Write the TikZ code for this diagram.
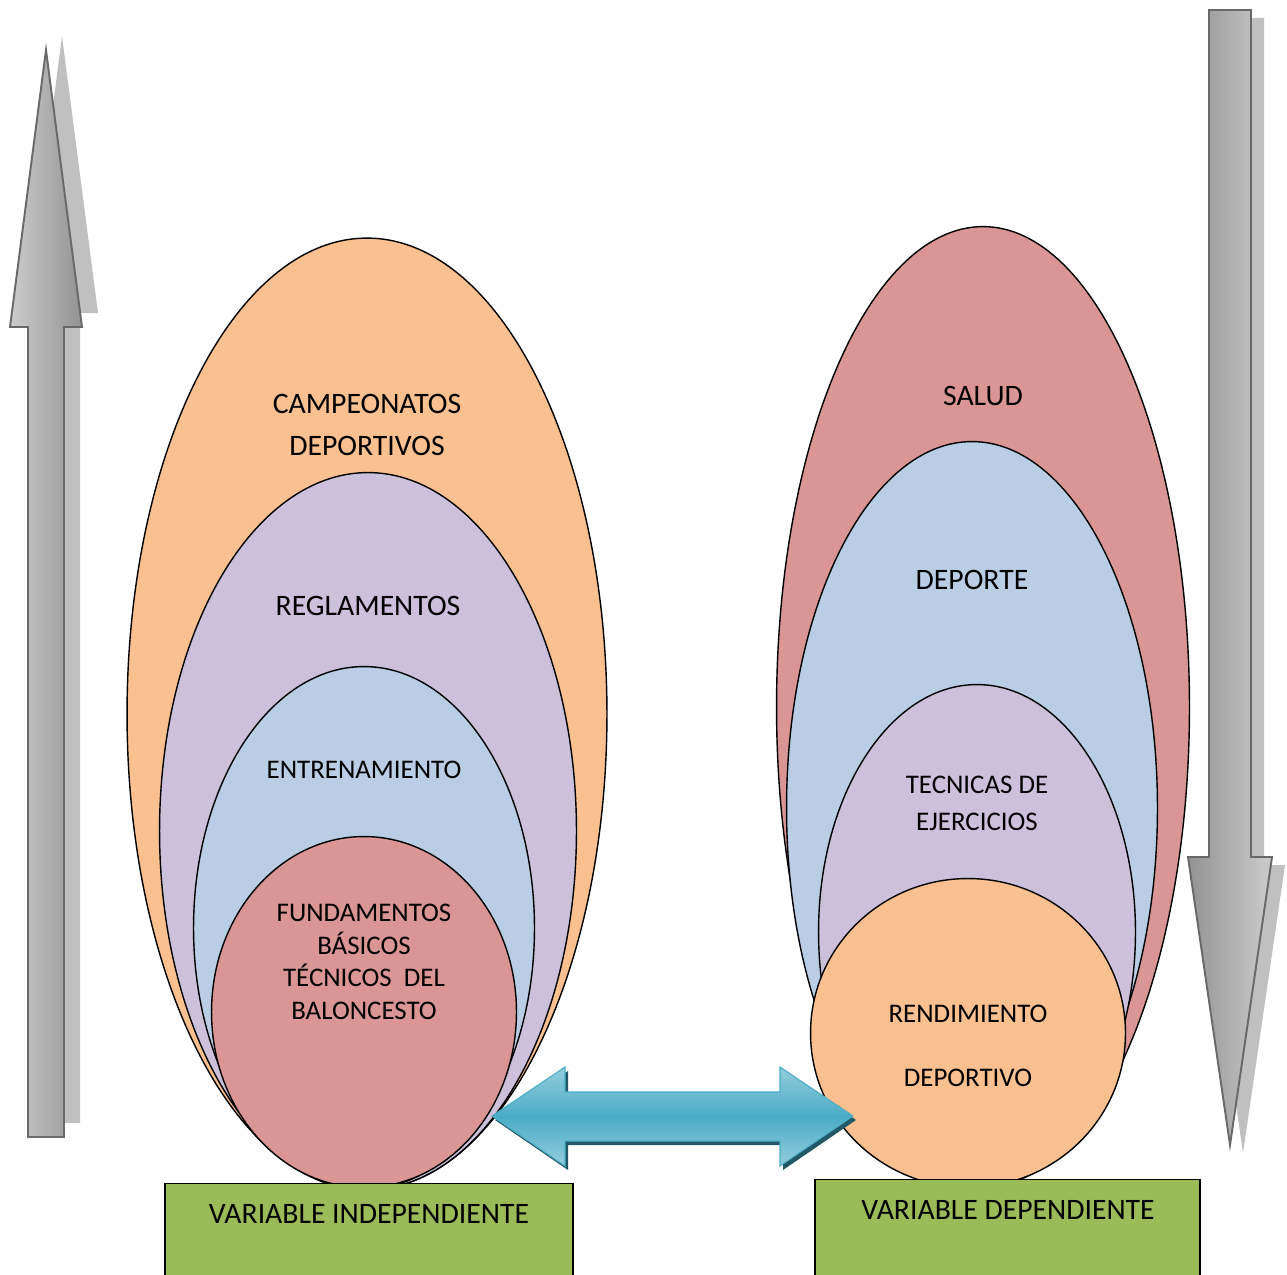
\documentclass[tikz,border=0pt]{standalone}
\usepackage{fontspec}
\setmainfont{Carlito}
\usetikzlibrary{shapes.geometric}
\definecolor{corange}{HTML}{FAC090}
\definecolor{cpurple}{HTML}{CCC0DA}
\definecolor{cblue}{HTML}{B9CDE5}
\definecolor{cred}{HTML}{D99694}
\definecolor{cgreen}{HTML}{9BBB59}
\definecolor{cteal}{HTML}{4BACC6}
\definecolor{cteallight}{HTML}{93CDDD}
\definecolor{ctealdark}{HTML}{215968}
\definecolor{arrline}{RGB}{105,105,105}
\definecolor{arrshadow}{RGB}{192,192,192}
\begin{document}
\begin{tikzpicture}[x=0.02cm,y=-0.02cm,
  oval/.style={ellipse, draw=black, line width=0.8pt, inner sep=0pt, outer sep=0pt},
  lbl/.style={font=\fontsize{16.9}{20}\selectfont, align=center, inner sep=0pt},
  slbl/.style={font=\fontsize{15.3}{18.5}\selectfont, align=center, inner sep=0pt},
  varbox/.style={draw=black, line width=0.8pt, fill=cgreen, inner sep=0pt, outer sep=0pt},
  greyshadow/.style={fill=arrshadow, draw=none},
  upgrey/.style={draw=arrline, line width=1.1pt, left color=gray!40, right color=gray!85},
  downgrey/.style={draw=arrline, line width=1.1pt, left color=gray!85, right color=gray!40},
  tealshadow/.style={fill=ctealdark, draw=none},
  tealarrow/.style={draw=cteal, line width=0.6pt, top color=cteallight, bottom color=cteallight, middle color=cteal}
]
\useasboundingbox (0,0) rectangle (1287,1274);

% ---- grey vertical arrows ----
\coordinate (uptip) at (46,50);
\coordinate (dntip) at (1230,1145);
\fill[greyshadow] ([shift={(16,-14)}]uptip) -- ++(36,277) -- ++(-18,0) -- ++(0,810) -- ++(-36,0) -- ++(0,-810) -- ++(-18,0) -- cycle;
\path[upgrey] (uptip) -- ++(36,277) -- ++(-18,0) -- ++(0,810) -- ++(-36,0) -- ++(0,-810) -- ++(-18,0) -- cycle;
\fill[greyshadow] ([shift={(13,8)}]dntip) -- ++(42,-288) -- ++(-21,0) -- ++(0,-847) -- ++(-42,0) -- ++(0,847) -- ++(-21,0) -- cycle;
\path[downgrey] (dntip) -- ++(42,-288) -- ++(-21,0) -- ++(0,-847) -- ++(-42,0) -- ++(0,847) -- ++(-21,0) -- cycle;

% ---- left ellipses ----
\node[oval, fill=corange, minimum width=9.6cm, minimum height=19.04cm] (lcamp) at (367,714) {};
\node[oval, fill=cpurple, minimum width=8.34cm, minimum height=14.34cm] (lregl) at (368,831) {};
\node[oval, fill=cblue, minimum width=6.82cm, minimum height=10.46cm] (lentr) at (364,928) {};
\node[oval, fill=cred, minimum width=6.1cm, minimum height=7.02cm] (lfund) at (364,1012) {};

% ---- right ellipses ----
\node[oval, fill=cred, minimum width=8.26cm, minimum height=19.22cm] (rsalud) at (983,707) {};
\node[oval, fill=cblue, minimum width=7.42cm, minimum height=14.66cm] (rdep) at (972,808) {};
\node[oval, fill=cpurple, minimum width=6.34cm, minimum height=9.9cm] (rtec) at (977,932) {};
\node[oval, fill=corange, minimum width=6.3cm, minimum height=6.18cm] (rrend) at (968,1033) {};

% ---- labels ----
\node[lbl, font=\fontsize{16.9}{23.8}\selectfont] (tcamp) at (367,425) {CAMPEONATOS\\DEPORTIVOS};
\node[lbl] (tregl) at (368,606) {REGLAMENTOS};
\node[slbl] (tentr) at (364,770) {ENTRENAMIENTO};
\node[slbl] (tfund) at (364,962) {FUNDAMENTOS\\BÁSICOS\\TÉCNICOS\ \ DEL\\BALONCESTO};
\node[lbl] (tsalud) at (983,396) {SALUD};
\node[lbl] (tdep) at (972,580) {DEPORTE};
\node[slbl, font=\fontsize{15.3}{21}\selectfont] (ttec) at (977,803) {TECNICAS DE\\EJERCICIOS};
\node[slbl] (trend1) at (968,1014) {RENDIMIENTO};
\node[slbl] (trend2) at (968,1078) {DEPORTIVO};

% ---- green variable boxes ----
\node[varbox, minimum width=8.16cm, minimum height=1.9cm] (vind) at (369,1231) {};
\node[varbox, minimum width=7.7cm, minimum height=1.98cm] (vdep) at (1007.5,1229) {};
\node[lbl] (tvind) at (369,1214) {VARIABLE INDEPENDIENTE};
\node[lbl] (tvdep) at (1008,1210) {VARIABLE DEPENDIENTE};

% ---- teal double arrow ----
\coordinate (bl) at (492,1116);
\fill[tealshadow] ([shift={(3,4)}]bl) -- ++(73,-49) -- ++(0,25) -- ++(215,0) -- ++(0,-25) -- ++(73,49) -- ++(-73,50) -- ++(0,-25) -- ++(-215,0) -- ++(0,25) -- cycle;
\path[tealarrow] (bl) -- ++(73,-49) -- ++(0,25) -- ++(215,0) -- ++(0,-25) -- ++(73,49) -- ++(-73,50) -- ++(0,-25) -- ++(-215,0) -- ++(0,25) -- cycle;
\end{tikzpicture}
\end{document}
